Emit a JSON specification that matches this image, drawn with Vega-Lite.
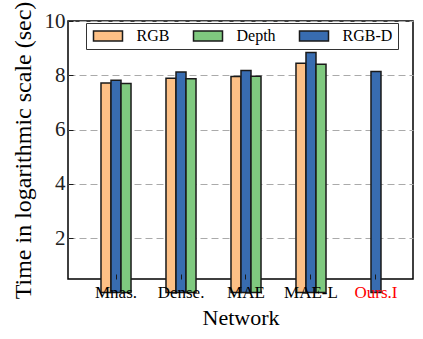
{
  "$schema": "https://vega.github.io/schema/vega-lite/v6.json",
  "width": 345,
  "height": 258,
  "autosize": {"type": "none"},
  "padding": {"left": 68, "top": 21, "right": 10, "bottom": 60},
  "config": {
    "font": "Liberation Serif",
    "view": {"stroke": "black", "strokeWidth": 1.5}
  },
  "data": {
    "values": [
      {"network": "Mnas.", "input": "RGB", "time": 7.72},
      {"network": "Mnas.", "input": "RGB-D", "time": 7.82},
      {"network": "Mnas.", "input": "Depth", "time": 7.70},
      {"network": "Dense.", "input": "RGB", "time": 7.89},
      {"network": "Dense.", "input": "RGB-D", "time": 8.12},
      {"network": "Dense.", "input": "Depth", "time": 7.87},
      {"network": "MAE", "input": "RGB", "time": 7.96},
      {"network": "MAE", "input": "RGB-D", "time": 8.18},
      {"network": "MAE", "input": "Depth", "time": 7.97},
      {"network": "MAE-L", "input": "RGB", "time": 8.44},
      {"network": "MAE-L", "input": "RGB-D", "time": 8.84},
      {"network": "MAE-L", "input": "Depth", "time": 8.41},
      {"network": "Ours.I", "input": "RGB-D", "time": 8.14}
    ]
  },
  "mark": {"type": "bar", "stroke": "#1a1a1a", "strokeWidth": 1.5},
  "encoding": {
    "x": {
      "field": "network",
      "type": "nominal",
      "sort": ["Mnas.", "Dense.", "MAE", "MAE-L", "Ours.I"],
      "scale": {"paddingInner": 0.538, "paddingOuter": 0.423, "align": 0.6},
      "axis": {
        "title": "Network",
        "titleFont": "Liberation Serif",
        "titleFontSize": 22,
        "titleFontWeight": "normal",
        "titleColor": "black",
        "titlePadding": 7,
        "labelFont": "Liberation Serif",
        "labelFontSize": 17,
        "labelColor": {"condition": {"test": "datum.value == 'Ours.I'", "value": "#ff0000"}, "value": "black"},
        "labelAngle": 0,
        "labelPadding": 10,
        "domain": false,
        "tickSize": -5,
        "tickColor": "#1a1a1a",
        "tickWidth": 1,
        "zindex": 1
      }
    },
    "xOffset": {
      "field": "input",
      "type": "nominal",
      "sort": ["RGB", "RGB-D", "Depth"],
      "scale": {"domain": ["RGB", "RGB-D", "Depth"], "paddingInner": 0, "paddingOuter": 0}
    },
    "y": {
      "field": "time",
      "type": "quantitative",
      "scale": {"domain": [0.5, 10], "nice": false, "zero": false},
      "axis": {
        "title": "Time in logarithmic scale (sec)",
        "titleFont": "Liberation Serif",
        "titleFontSize": 24,
        "titleFontWeight": "normal",
        "titleColor": "black",
        "titlePadding": 9,
        "values": [2, 4, 6, 8, 10],
        "labelFont": "Liberation Serif",
        "labelFontSize": 21,
        "labelColor": "#222222",
        "labelPadding": 8,
        "domain": false,
        "tickSize": -5,
        "tickColor": "#1a1a1a",
        "grid": true,
        "gridDash": [7, 4],
        "gridColor": "#aaaaaa",
        "gridWidth": 1
      }
    },
    "color": {
      "field": "input",
      "type": "nominal",
      "scale": {"domain": ["RGB", "Depth", "RGB-D"], "range": ["#fdc086", "#7fc97f", "#386cb0"]},
      "legend": {
        "title": null,
        "orient": "none",
        "legendX": 18,
        "legendY": 2,
        "direction": "horizontal",
        "gridAlign": "none",
        "symbolType": "M-1.1,-1H4.7V1H-1.1Z",
        "symbolSize": 100,
        "symbolStrokeColor": "#1a1a1a",
        "symbolStrokeWidth": 1.5,
        "symbolOpacity": 1,
        "labelFont": "Liberation Serif",
        "labelFontSize": 16,
        "labelColor": "black",
        "labelOffset": 29.5,
        "columnPadding": 20,
        "padding": 5,
        "strokeColor": "#333333",
        "fillColor": "white",
        "cornerRadius": 0
      }
    }
  }
}
